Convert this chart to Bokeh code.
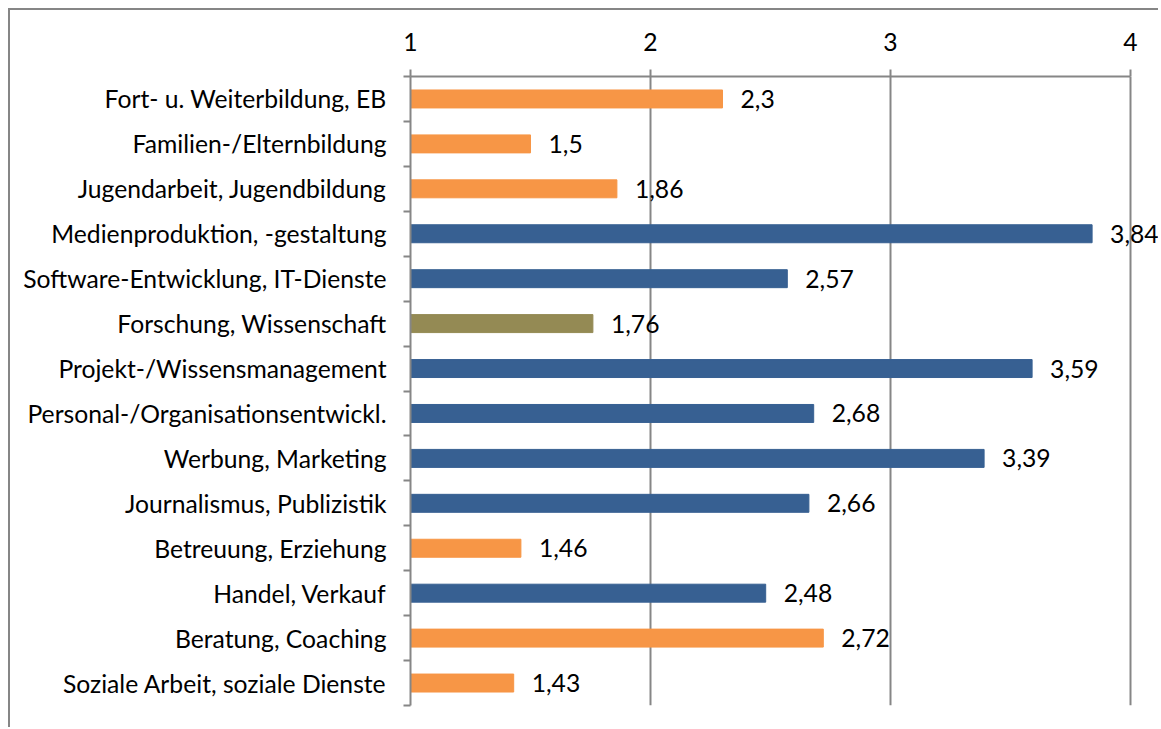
from bokeh.plotting import figure
from bokeh.models import Range1d, FixedTicker, ColumnDataSource, LabelSet
from bokeh.core.properties import value
from bokeh.embed import file_html
from bokeh.resources import INLINE

categories = [
    "Fort- u. Weiterbildung, EB",
    "Familien-/Elternbildung",
    "Jugendarbeit, Jugendbildung",
    "Medienproduktion, -gestaltung",
    "Software-Entwicklung, IT-Dienste",
    "Forschung, Wissenschaft",
    "Projekt-/Wissensmanagement",
    "Personal-/Organisationsentwickl.",
    "Werbung, Marketing",
    "Journalismus, Publizistik",
    "Betreuung, Erziehung",
    "Handel, Verkauf",
    "Beratung, Coaching",
    "Soziale Arbeit, soziale Dienste",
]
values = [2.3, 1.5, 1.86, 3.84, 2.57, 1.76, 3.59, 2.68, 3.39, 2.66, 1.46, 2.48, 2.72, 1.43]
groups = ["o", "o", "o", "b", "b", "g", "b", "b", "b", "b", "o", "b", "o", "o"]
value_labels = ["2,3", "1,5", "1,86", "3,84", "2,57", "1,76", "3,59", "2,68", "3,39", "2,66", "1,46", "2,48", "2,72", "1,43"]
x_ticks = [1, 2, 3, 4]

palette = {"o": "#F79646", "b": "#376092", "g": "#948A54"}
FONT = "Lato"
FSIZE = "24.7px"
GRAY = "#868686"

n = len(categories)
ypos = [n - 0.5 - i for i in range(n)]
src = ColumnDataSource(dict(
    y=ypos, v=values, left=[1] * n, lab=value_labels,
    color=[palette[g] for g in groups],
))

W, H = 1150, 719
ML, MT, MB = 400, 66, 24
x_end = 1 + (W - ML) / 240.0

p = figure(width=W, height=H, x_axis_location="above",
           x_range=Range1d(1, x_end), y_range=Range1d(0, n),
           output_backend="svg", toolbar_location=None,
           min_border_left=ML, min_border_right=0,
           min_border_top=MT, min_border_bottom=MB)
p.styles = {"border-left": f"2px solid {GRAY}", "border-top": f"2px solid {GRAY}",
            "margin-left": "8px", "margin-top": "8px"}
p.outline_line_color = None
p.background_fill_color = "white"

p.hbar(y="y", left="left", right="v", height=0.4, color="color", source=src)

labels = LabelSet(x="v", y="y", text="lab", source=src, x_offset=18,
                  text_baseline="middle", text_align="left",
                  text_font=value(FONT), text_font_size=value(FSIZE), text_color="black")
p.add_layout(labels)

xa = p.xaxis[0]
xa.ticker = FixedTicker(ticks=x_ticks)
xa.bounds = (1, 4)
xa.axis_line_color = GRAY
xa.axis_line_width = 2
xa.major_tick_line_color = GRAY
xa.major_tick_line_width = 2
xa.major_tick_out = 7
xa.major_tick_in = 0
xa.minor_tick_line_color = None
xa.major_label_text_font = FONT
xa.major_label_text_font_size = FSIZE
xa.major_label_text_color = "black"
xa.major_label_standoff = 19

ya = p.yaxis[0]
ya.ticker = FixedTicker(ticks=ypos, minor_ticks=list(range(0, n + 1)))
ya.major_label_overrides = {y: c for y, c in zip(ypos, categories)}
ya.axis_line_color = GRAY
ya.axis_line_width = 2
ya.major_tick_line_color = None
ya.major_tick_out = 0
ya.major_tick_in = 0
ya.minor_tick_line_color = GRAY
ya.minor_tick_line_width = 2
ya.minor_tick_out = 7
ya.minor_tick_in = 0
ya.major_label_text_font = FONT
ya.major_label_text_font_size = FSIZE
ya.major_label_text_color = "black"
ya.major_label_standoff = 17

p.xgrid.grid_line_color = GRAY
p.xgrid.grid_line_width = 2
p.xgrid.ticker = FixedTicker(ticks=x_ticks)
p.ygrid.grid_line_color = None

open("out.html", "w").write(file_html(p, INLINE))
